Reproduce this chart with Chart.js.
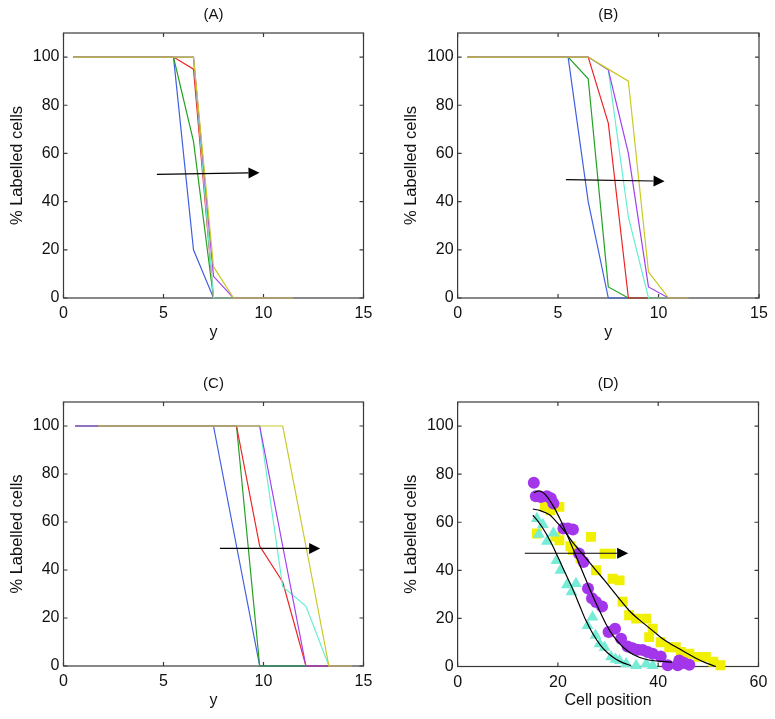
<!DOCTYPE html>
<html>
<head>
<meta charset="utf-8">
<title>% Labelled cells</title>
<script src="https://cdn.jsdelivr.net/npm/chart.js@4.4.1/dist/chart.umd.min.js"></script>
<style>
  html, body { margin: 0; padding: 0; background: #fff; }
  #wrap { position: relative; width: 775px; height: 719px; overflow: hidden; }
  canvas { position: absolute; }
</style>
</head>
<body>
<div id="wrap">
  <canvas id="chartA"></canvas>
  <canvas id="chartB"></canvas>
  <canvas id="chartC"></canvas>
  <canvas id="chartD"></canvas>
</div>
<script>
// ---- data ----
// y positions used by panels A and B
const yStepsAB = [0.5, 1.5, 2.5, 3.5, 4.5, 5.5, 6.5, 7.5, 8.5, 9.5, 10.5, 11.5];
// y positions used by panel C
const yStepsC = [0.58, 1.73, 2.88, 4.04, 5.19, 6.35, 7.5, 8.65, 9.81, 10.96, 12.12, 13.27, 14.42];

// panel A
const aBlue   = [100, 100, 100, 100, 100, 100, 20, 0, 0, 0, 0, 0];
const aGreen  = [100, 100, 100, 100, 100, 100, 65, 0, 0, 0, 0, 0];
const aRed    = [100, 100, 100, 100, 100, 100, 95, 0, 0, 0, 0, 0];
const aCyan   = [100, 100, 100, 100, 100, 100, 100, 0, 0, 0, 0, 0];
const aPurple = [100, 100, 100, 100, 100, 100, 100, 9, 0, 0, 0, 0];
const aYellow = [100, 100, 100, 100, 100, 100, 100, 13, 0, 0, 0, 0];

// panel B
const bBlue   = [100, 100, 100, 100, 100, 100, 40, 0, 0, 0, 0, 0];
const bGreen  = [100, 100, 100, 100, 100, 100, 91, 4.6, 0, 0, 0, 0];
const bRed    = [100, 100, 100, 100, 100, 100, 100, 72.6, 0, 0, 0, 0];
const bCyan   = [100, 100, 100, 100, 100, 100, 100, 94.7, 33.6, 0, 0, 0];
const bPurple = [100, 100, 100, 100, 100, 100, 100, 94.7, 60, 4.6, 0, 0];
const bYellow = [100, 100, 100, 100, 100, 100, 100, 95, 90, 10.8, 0, 0];

// panel C
const cBlue   = [100, 100, 100, 100, 100, 100, 100, 50, 0, 0, 0, 0, 0];
const cGreen  = [100, 100, 100, 100, 100, 100, 100, 100, 0, 0, 0, 0, 0];
const cRed    = [100, 100, 100, 100, 100, 100, 100, 100, 50, 35, 0, 0, 0];
const cCyan   = [100, 100, 100, 100, 100, 100, 100, 100, 100, 33, 25, 0, 0];
const cPurple = [100, 100, 100, 100, 100, 100, 100, 100, 100, 50, 0, 0, 0];
const cYellow = [null, 100, 100, 100, 100, 100, 100, 100, 100, 100, 50, 0, 0];

// panel D - measured points
const dPurpleX = [15.2, 15.6, 16.6, 17.8, 18.6, 19.1, 21.1, 22.0, 23.0, 24.2, 25.1, 26.0, 26.8, 27.6, 28.8, 30.1, 31.4, 32.6, 33.9, 34.9, 35.9, 36.9, 37.9, 38.9, 40.5, 41.9, 43.9, 44.2, 45.2, 46.2];
const dPurpleY = [76.4, 70.8, 70.5, 70.8, 70, 67.8, 57.4, 57.4, 57.0, 47, 43.5, 32.4, 28.4, 26.8, 25, 14.3, 15.7, 11.5, 8.3, 7.6, 7, 6.9, 6, 5.3, 4.2, 0.5, 0.5, 2.5, 1.5, 0.7];
const dCyanX = [15.8, 16.2, 17.0, 17.8, 19.1, 19.7, 20.5, 21.8, 22.7, 23.6, 25.9, 26.9, 27.5, 28.3, 29.3, 30.6, 31.5, 32.3, 33.6, 35.6, 37.6, 38.9];
const dCyanY = [61.5, 55, 59, 52, 55.5, 44, 40, 34, 31, 34.5, 17, 20.5, 13, 9.4, 8, 4, 3, 2.5, 1.1, 0.4, 1.1, 0.4];
const dYellowX = [15.8, 17.4, 18.5, 20.3, 19.5, 20.3, 22.5, 23.0, 24.5, 26.6, 27.6, 29.3, 30.6, 30.9, 32.3, 32.9, 34.2, 35.6, 37.6, 38.2, 38.9, 40.5, 42.2, 43.5, 44.5, 46.2, 48, 49.5, 51, 52.4];
const dYellowY = [55.3, 66.5, 65, 66.4, 54, 52.5, 50, 48.4, 45, 53.9, 40, 46.9, 46.9, 36.5, 35.8, 27, 21.3, 19.9, 19.9, 12.2, 15.7, 10.1, 8, 8, 6, 5.3, 4, 4, 2, 0.5];

// panel D - fitted curves
const fitCyanX = [15, 16, 17, 18, 19, 20, 21, 22, 23, 24.3, 25.5, 27, 28.5, 30, 31.6, 33, 34.6];
const fitCyanY = [62.9, 60.5, 57.5, 54, 50, 45.5, 41, 36.5, 32, 25.5, 19.5, 13.5, 8.8, 5.5, 3, 1.5, 0.4];
const fitPurpleX = [15.2, 16.2, 17.5, 19, 20.5, 22, 23.5, 25, 26.5, 28, 29.5, 31, 33, 35, 37.5, 40, 42.8];
const fitPurpleY = [72.3, 73, 71.5, 67, 61, 54, 46.5, 39, 31.5, 24.5, 18, 12.8, 8, 5, 3, 2.2, 1.8];
const fitYellowX = [15, 16.5, 18.4, 20, 21.7, 23, 24.3, 26, 27.6, 29.3, 30.9, 32.5, 34.2, 36, 37.6, 39.3, 40.9, 42.5, 44.2, 46, 47.5, 49.5, 51.5];
const fitYellowY = [65.5, 64.8, 63, 59.5, 55.3, 51.5, 48.3, 44, 40, 35.8, 31.7, 27.5, 23.3, 19.8, 17.1, 14.2, 11.5, 9.4, 7.4, 5.2, 3.4, 1.5, 0];

// arrows: [tail x, tail y, tip x, tip y] in data units
const arrowA = [4.67, 51.3, 9.8, 52.0];
const arrowB = [5.39, 49.1, 10.3, 48.5];
const arrowC = [7.82, 49.0, 12.83, 49.0];
const arrowD = [13.4, 47.1, 34.0, 47.1];

const yTicks = [0, 20, 40, 60, 80, 100];

// ---- styling ----
const COL = {
  blue: '#3f5fe0', green: '#23a023', red: '#ee2424',
  cyan: '#66eed2', purple: '#a040f0', yellow: '#c9c926'
};
Chart.defaults.font.family = '"Liberation Sans", Arial, sans-serif';
Chart.defaults.color = '#111';

function pts(xs, ys) {
  return xs.map((x, i) => ({ x: x, y: ys[i] }));
}
function lineSet(xs, ys, color) {
  return { data: pts(xs, ys), borderColor: color, borderWidth: 1.2, pointRadius: 0, fill: false, tension: 0, clip: 3 };
}
function dotSet(xs, ys, color, style, r) {
  return { data: pts(xs, ys), showLine: false, pointStyle: style, pointRadius: r, pointBorderWidth: 0,
           pointBackgroundColor: color, pointBorderColor: color, borderColor: color, clip: 8 };
}
function fitSet(xs, ys) {
  return { data: pts(xs, ys), borderColor: '#000', borderWidth: 1.2, pointRadius: 0, fill: false,
           cubicInterpolationMode: 'monotone', clip: 3 };
}

// matlab style frame (under the data) with inward ticks, arrow on top
const boxPlugin = {
  id: 'matlabBox',
  beforeDatasetsDraw(chart) {
    const ctx = chart.ctx, a = chart.chartArea;
    const xs = chart.scales.x, ys = chart.scales.y;
    ctx.save();
    ctx.strokeStyle = '#3a3a3a';
    ctx.lineWidth = 1.2;
    ctx.strokeRect(a.left, a.top, a.width, a.height);
    ctx.beginPath();
    xs.ticks.forEach(t => {
      const p = xs.getPixelForValue(t.value);
      ctx.moveTo(p, a.bottom); ctx.lineTo(p, a.bottom - 4);
      ctx.moveTo(p, a.top); ctx.lineTo(p, a.top + 4);
    });
    ys.ticks.forEach(t => {
      const p = ys.getPixelForValue(t.value);
      ctx.moveTo(a.left, p); ctx.lineTo(a.left + 4, p);
      ctx.moveTo(a.right, p); ctx.lineTo(a.right - 4, p);
    });
    ctx.stroke();
    ctx.restore();
  },
  afterDatasetsDraw(chart, args, opts) {
    if (!opts.arrow) return;
    const ctx = chart.ctx;
    const xs = chart.scales.x, ys = chart.scales.y;
    const x0 = xs.getPixelForValue(opts.arrow[0]), y0 = ys.getPixelForValue(opts.arrow[1]);
    const x1 = xs.getPixelForValue(opts.arrow[2]), y1 = ys.getPixelForValue(opts.arrow[3]);
    const ang = Math.atan2(y1 - y0, x1 - x0);
    const hl = 11, hw = 5.5;
    const bx = x1 - Math.cos(ang) * hl, by = y1 - Math.sin(ang) * hl;
    ctx.save();
    ctx.strokeStyle = '#000';
    ctx.lineWidth = 1.2;
    ctx.beginPath();
    ctx.moveTo(x0, y0);
    ctx.lineTo(bx, by);
    ctx.stroke();
    ctx.fillStyle = '#000';
    ctx.beginPath();
    ctx.moveTo(x1, y1);
    ctx.lineTo(bx - Math.sin(ang) * hw, by + Math.cos(ang) * hw);
    ctx.lineTo(bx + Math.sin(ang) * hw, by - Math.cos(ang) * hw);
    ctx.closePath();
    ctx.fill();
    ctx.restore();
  }
};

function makePanel(id, box, area, cfg) {
  const cv = document.getElementById(id);
  cv.width = box.w;
  cv.height = box.h;
  cv.style.left = box.x + 'px';
  cv.style.top = box.y + 'px';
  const xH = 44.1;
  // chart.js paints dataset 0 last, so reverse to keep the listed order bottom -> top
  return new Chart(cv, {
    type: 'line',
    data: { datasets: cfg.datasets.slice().reverse() },
    plugins: [boxPlugin],
    options: {
      responsive: false,
      animation: false,
      events: [],
      layout: { padding: { left: 0, top: 0, right: box.x + box.w - area.r, bottom: box.y + box.h - area.b - xH } },
      plugins: {
        legend: { display: false },
        tooltip: { enabled: false },
        title: {
          display: true, text: cfg.title, fullSize: false, color: '#111',
          font: { size: 15, weight: 'normal' },
          padding: { top: area.t - box.y - 27.2, bottom: 9.2 }
        },
        matlabBox: { arrow: cfg.arrow }
      },
      scales: {
        x: {
          type: 'linear', min: 0, max: cfg.xMax, bounds: 'data',
          grid: { display: false, drawTicks: false }, border: { display: false },
          ticks: { stepSize: cfg.xStep, padding: 6, maxRotation: 0, font: { size: 16 } },
          title: { display: true, text: cfg.xTitle, padding: 0, font: { size: 16 } },
          afterFit: s => { s.height = xH; }
        },
        y: {
          min: 0, max: 110, bounds: 'data',
          grid: { display: false, drawTicks: false }, border: { display: false },
          afterBuildTicks: s => { s.ticks = yTicks.map(v => ({ value: v })); },
          ticks: { padding: 4, font: { size: 16 } },
          title: {
            display: true, text: '% Labelled cells', font: { size: 16.5 },
            padding: { top: area.l - 46.5 - box.x - 9.9, bottom: 0 }
          },
          afterFit: s => { s.width = area.l - box.x; }
        }
      }
    }
  });
}

makePanel('chartA', { x: 0, y: 0, w: 388, h: 360 }, { l: 63.5, t: 33, r: 363.5, b: 298 }, {
  title: '(A)', xTitle: 'y', xMax: 15, xStep: 5, arrow: arrowA,
  datasets: [
    lineSet(yStepsAB, aBlue, COL.blue), lineSet(yStepsAB, aGreen, COL.green),
    lineSet(yStepsAB, aRed, COL.red), lineSet(yStepsAB, aCyan, COL.cyan),
    lineSet(yStepsAB, aPurple, COL.purple), lineSet(yStepsAB, aYellow, COL.yellow)
  ]
});

makePanel('chartB', { x: 388, y: 0, w: 387, h: 360 }, { l: 457.6, t: 33, r: 759, b: 298 }, {
  title: '(B)', xTitle: 'y', xMax: 15, xStep: 5, arrow: arrowB,
  datasets: [
    lineSet(yStepsAB, bBlue, COL.blue), lineSet(yStepsAB, bGreen, COL.green),
    lineSet(yStepsAB, bRed, COL.red), lineSet(yStepsAB, bCyan, COL.cyan),
    lineSet(yStepsAB, bPurple, COL.purple), lineSet(yStepsAB, bYellow, COL.yellow)
  ]
});

makePanel('chartC', { x: 0, y: 360, w: 388, h: 359 }, { l: 63.5, t: 402, r: 363.5, b: 666 }, {
  title: '(C)', xTitle: 'y', xMax: 15, xStep: 5, arrow: arrowC,
  datasets: [
    lineSet(yStepsC, cBlue, COL.blue), lineSet(yStepsC, cGreen, COL.green),
    lineSet(yStepsC, cRed, COL.red), lineSet(yStepsC, cCyan, COL.cyan),
    lineSet(yStepsC, cPurple, COL.purple), lineSet(yStepsC, cYellow, COL.yellow)
  ]
});

makePanel('chartD', { x: 388, y: 360, w: 387, h: 359 }, { l: 457.6, t: 402, r: 758.5, b: 666.5 }, {
  title: '(D)', xTitle: 'Cell position', xMax: 60, xStep: 20, arrow: arrowD,
  datasets: [
    dotSet(dYellowX, dYellowY, '#f0f000', 'rect', 7),
    dotSet(dCyanX, dCyanY, '#74ecd6', 'triangle', 6.8),
    dotSet(dPurpleX, dPurpleY, '#a336ea', 'circle', 6),
    fitSet(fitCyanX, fitCyanY),
    fitSet(fitPurpleX, fitPurpleY),
    fitSet(fitYellowX, fitYellowY)
  ]
});
</script>
</body>
</html>
